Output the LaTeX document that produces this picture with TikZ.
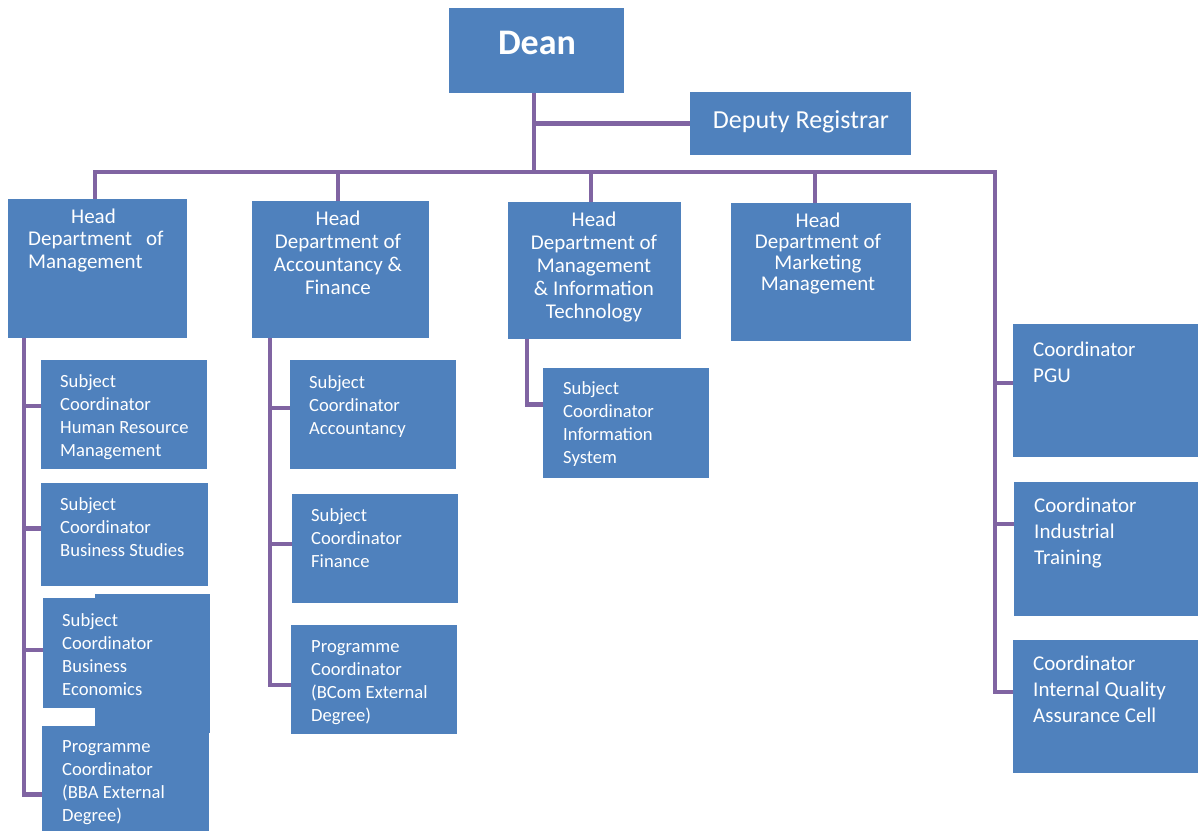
\documentclass[tikz,border=0pt]{standalone}
\usepackage{fontspec}
\setmainfont{Carlito}
\usepackage{tikz}
\usetikzlibrary{positioning}
\definecolor{boxblue}{HTML}{4F81BD}
\definecolor{linkpurple}{HTML}{8064A2}
\tikzstyle{unit} = [rectangle, fill=boxblue, inner sep=0pt, anchor=north west]
\tikzstyle{headtext} = [text=white, inner sep=0pt, align=center, anchor=base, font=\fontsize{21}{23}\selectfont]
\tikzstyle{subtext} = [text=white, inner sep=0pt, align=left, anchor=base west, font=\fontsize{18.6}{23}\selectfont]
\tikzstyle{cotext} = [text=white, inner sep=0pt, align=left, anchor=base west, font=\fontsize{21}{26}\selectfont]
\tikzstyle{link} = [line width=4.5pt, draw=linkpurple]

\begin{document}
\begin{tikzpicture}[x=1pt, y=-1pt]
    \useasboundingbox (0,0) rectangle (1204,831);
    % top level
    \node (dean) [unit, minimum width=175pt, minimum height=85pt] at (449,8) {};
    \node (dean-t) [text=white, inner sep=0pt, anchor=base, font=\bfseries\fontsize{36}{40}\selectfont] at (537,54) {Dean};
    \node (dr) [unit, minimum width=221pt, minimum height=63pt] at (690,92) {};
    \node (dr-t) [text=white, inner sep=0pt, anchor=base, font=\fontsize{26}{30}\selectfont] at (801,128) {Deputy Registrar};
    % heads of department (text placed at the baseline of its last line)
    \node (mgmt) [unit, minimum width=179pt, minimum height=139pt] at (8,199) {};
    \node (mgmt-t) [subtext, font=\fontsize{21}{22.5}\selectfont] at (28,268) {\hspace*{43pt}Head\\Department\hspace{14pt}of\\Management};
    \node (acc) [unit, minimum width=177pt, minimum height=137pt] at (252,201) {};
    \node (acc-t) [headtext] at (338,294) {Head\\Department of\\Accountancy \&\\Finance};
    \node (mit) [unit, minimum width=173pt, minimum height=137pt] at (508,202) {};
    \node (mit-t) [headtext] at (594,318) {Head\\Department of\\Management\\\& Information\\Technology};
    \node (mkt) [unit, minimum width=180pt, minimum height=138pt] at (731,203) {};
    \node (mkt-t) [headtext, font=\fontsize{21}{21}\selectfont] at (818,290) {Head\\Department of\\Marketing\\Management};
    % coordinators
    \node (pgu) [unit, minimum width=185pt, minimum height=133pt] at (1013,324) {};
    \node (pgu-t) [cotext] at (1033,382) {Coordinator\\PGU};
    \node (ind) [unit, minimum width=184pt, minimum height=134pt] at (1014,482) {};
    \node (ind-t) [cotext] at (1034,564) {Coordinator\\Industrial\\Training};
    \node (iqac) [unit, minimum width=185pt, minimum height=133pt] at (1013,640) {};
    \node (iqac-t) [cotext] at (1033,722) {Coordinator\\Internal Quality\\Assurance Cell};
    % management subjects
    \node (hrm) [unit, minimum width=166pt, minimum height=109pt] at (41,360) {};
    \node (hrm-t) [subtext] at (60,456) {Subject\\Coordinator\\Human Resource\\Management};
    \node (bs) [unit, minimum width=167pt, minimum height=103pt] at (41,483) {};
    \node (bs-t) [subtext] at (60,556) {Subject\\Coordinator\\Business Studies};
    \fill [boxblue] (95,594) rectangle (210,733);
    \node (be) [unit, minimum width=167pt, minimum height=110pt] at (43,598) {};
    \node (be-t) [subtext] at (62,695) {Subject\\Coordinator\\Business\\Economics};
    \node (bba) [unit, minimum width=167pt, minimum height=105pt] at (42,726) {};
    \node (bba-t) [subtext] at (62,821) {Programme\\Coordinator\\(BBA External\\Degree)};
    % accountancy subjects
    \node (accs) [unit, minimum width=166pt, minimum height=109pt] at (290,360) {};
    \node (accs-t) [subtext] at (309,434) {Subject\\Coordinator\\Accountancy};
    \node (fin) [unit, minimum width=166pt, minimum height=109pt] at (292,494) {};
    \node (fin-t) [subtext] at (311,567) {Subject\\Coordinator\\Finance};
    \node (bcom) [unit, minimum width=166pt, minimum height=109pt] at (291,625) {};
    \node (bcom-t) [subtext] at (311,721) {Programme\\Coordinator\\(BCom External\\Degree)};
    % information system
    \node (ifs) [unit, minimum width=166pt, minimum height=110pt] at (543,368) {};
    \node (ifs-t) [subtext] at (563,463) {Subject\\Coordinator\\Information\\System};
    % connectors
    \coordinate (busR) at (995,172);
    \coordinate (deanfoot) at ([xshift=-2.5pt]dean.south);
    \draw [link] (deanfoot) -- (deanfoot |- busR);
    \draw [link] (deanfoot |- dr.west) -- (dr.west);
    \draw [link] ([xshift=-2.5pt]mgmt.north) |- (busR) |- ([yshift=14.5pt]iqac.west);
    \draw [link] ([xshift=-2.5pt]acc.north) -- ([xshift=-2.5pt]acc.north |- busR);
    \draw [link] ([xshift=-3.5pt]mit.north) -- ([xshift=-3.5pt]mit.north |- busR);
    \draw [link] ([xshift=-6pt]mkt.north) -- ([xshift=-6pt]mkt.north |- busR);
    \draw [link] ([yshift=7.5pt]pgu.west) -- ([yshift=7.5pt]pgu.west -| busR);
    \draw [link] ([yshift=25pt]ind.west) -- ([yshift=25pt]ind.west -| busR);
    \coordinate (lrail) at ([xshift=16pt]mgmt.south west);
    \draw [link] (lrail) |- ([yshift=-16pt]bba.west);
    \draw [link] ([yshift=8.5pt]hrm.west) -- ([yshift=8.5pt]hrm.west -| lrail);
    \draw [link] ([yshift=6pt]bs.west) -- ([yshift=6pt]bs.west -| lrail);
    \draw [link] ([yshift=3pt]be.west) -- ([yshift=3pt]be.west -| lrail);
    \coordinate (arail) at ([xshift=18pt]acc.south west);
    \draw [link] (arail) |- ([yshift=-5.5pt]bcom.west);
    \draw [link] ([yshift=6.5pt]accs.west) -- ([yshift=6.5pt]accs.west -| arail);
    \draw [link] ([yshift=4.5pt]fin.west) -- ([yshift=4.5pt]fin.west -| arail);
    \draw [link] ([xshift=19pt]mit.south west) |- ([yshift=18.5pt]ifs.west);
\end{tikzpicture}
\end{document}
